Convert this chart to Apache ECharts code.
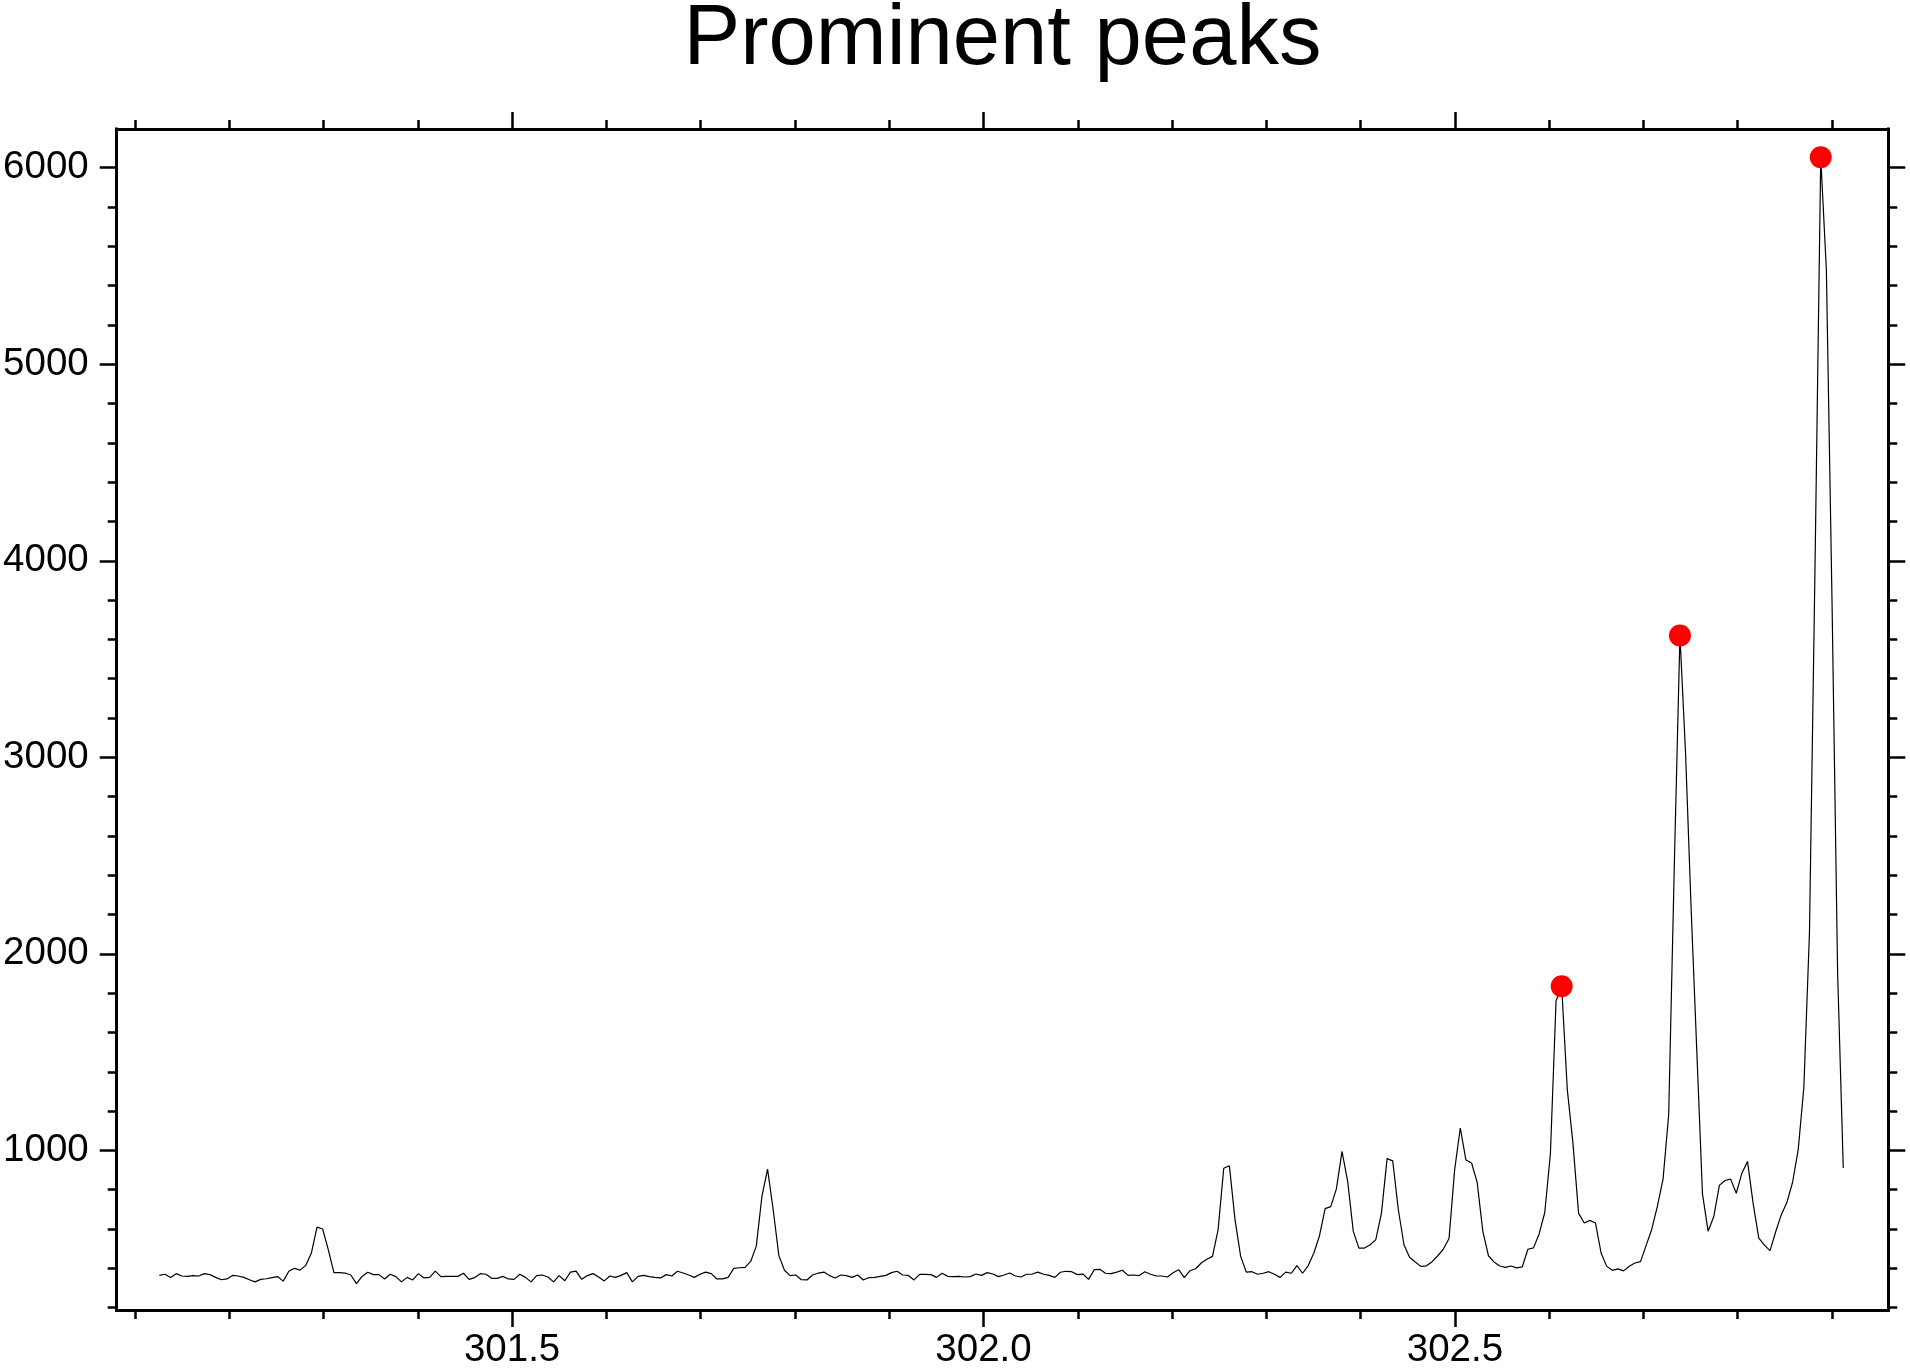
<!DOCTYPE html>
<html>
<head>
<meta charset="utf-8">
<script src="https://cdn.jsdelivr.net/npm/echarts@6/dist/echarts.min.js"></script>
<style>
html,body{margin:0;padding:0;background:#fff;}
#chart{width:1910px;height:1370px;}
</style>
</head>
<body>
<div id="chart"></div>
<script>
// ---- data ----
const chartTitle = 'Prominent peaks';
const mzStart = 301.1258;   // m/z of first sample
const mzStep = 0.0059737;   // sampling step of the spectrum
const intensity = [
 364,370,353,373,361,359,363,361,373,368,
 354,342,346,364,361,354,342,331,344,347,
 353,358,335,385,400,391,415,478,610,600,
 495,378,378,376,366,322,359,380,368,368,
 346,370,358,331,354,341,373,351,354,386,
 358,359,359,359,375,344,353,373,370,349,
 349,359,346,344,370,354,331,363,366,356,
 331,363,337,381,386,344,363,373,356,336,
 361,354,364,378,331,359,364,358,354,351,
 368,361,385,376,366,354,370,381,373,346,
 346,354,400,403,405,435,513,766,905,698,
 466,390,363,366,342,341,366,376,381,363,
 351,366,363,354,366,341,353,354,359,364,
 378,385,366,364,341,369,369,368,354,375,
 359,358,359,356,358,371,364,378,371,358,
 366,376,361,356,370,371,381,370,364,354,
 380,385,383,368,371,344,393,395,375,373,
 381,390,364,366,363,383,370,361,361,356,
 378,393,353,388,398,427,446,461,597,909,
 922,648,461,381,383,370,375,383,370,354,
 381,375,414,375,414,478,566,704,714,804,
 995,843,588,503,503,520,546,681,958,947,
 698,520,456,432,410,413,434,464,498,552,
 902,1114,951,936,837,588,464,432,412,405,
 412,402,407,497,504,575,684,983,1760,1835,
 1309,1037,681,631,644,631,478,410,390,397,
 387,411,427,434,517,599,717,854,1180,2450,
 3620,3020,2220,1500,779,589,662,822,847,854,
 782,884,944,729,554,518,490,586,673,736,
 838,1004,1320,2110,4000,6053,5480,3800,1900,910
];
const peakIndex = [249, 270, 295];

const xMin = 301.0806, xMax = 302.9597;
const yMin = 188, yMax = 6197;
const xMajorTicks = [301.5, 302.0, 302.5];
const xMinorTicks = [301.1,301.2,301.3,301.4,301.5,301.6,301.7,301.8,301.9,302.0,302.1,302.2,302.3,302.4,302.5,302.6,302.7,302.8,302.9];
const yMajorTicks = [1000, 2000, 3000, 4000, 5000, 6000];
const yMinorTicks = [200,400,600,800,1000,1200,1400,1600,1800,2000,2200,2400,2600,2800,3000,3200,3400,3600,3800,4000,4200,4400,4600,4800,5000,5200,5400,5600,5800,6000];

// ---- build ----
const lineData = intensity.map((v, i) => [mzStart + i * mzStep, v]);
const peakData = peakIndex.map(i => lineData[i]);

const FONT = '"Liberation Sans", Arial, Helvetica, sans-serif';
const black = '#000';
const labelSize = 38.5;

function xAx(pos, ticks, len, labels, showLine) {
  return {
    type: 'value', position: pos, min: xMin, max: xMax,
    axisLine: { show: showLine, onZero: false, lineStyle: { color: black, width: 3, cap: 'square' } },
    axisTick: { show: true, inside: false, length: len, customValues: ticks, lineStyle: { color: black, width: 2.5 } },
    axisLabel: labels ? { show: true, customValues: xMajorTicks, formatter: v => v.toFixed(1), color: black, fontSize: labelSize, fontFamily: FONT, margin: 21 } : { show: false },
    splitLine: { show: false }
  };
}
function yAx(pos, ticks, len, labels, showLine) {
  return {
    type: 'value', position: pos, min: yMin, max: yMax,
    axisLine: { show: showLine, onZero: false, lineStyle: { color: black, width: 3, cap: 'square' } },
    axisTick: { show: true, inside: false, length: len, customValues: ticks, lineStyle: { color: black, width: 2.5 } },
    axisLabel: labels ? { show: true, customValues: yMajorTicks, formatter: v => String(v), color: black, fontSize: labelSize, fontFamily: FONT, margin: 28 } : { show: false },
    splitLine: { show: false }
  };
}

const chart = echarts.init(document.getElementById('chart'), null, { renderer: 'canvas' });
chart.setOption({
  backgroundColor: '#fff',
  animation: false,
  grid: { left: 116.7, right: 21.7, top: 129, bottom: 59.7, containLabel: false },
  graphic: [{
    type: 'text', x: 1002.5, y: -2,
    style: { text: chartTitle, font: '85px ' + FONT, fill: black, textAlign: 'center', textVerticalAlign: 'top' }
  }],
  xAxis: [
    xAx('bottom', xMajorTicks, 17, true, true),
    xAx('bottom', xMinorTicks, 9, false, false),
    xAx('top', xMajorTicks, 17, false, true),
    xAx('top', xMinorTicks, 9, false, false)
  ],
  yAxis: [
    yAx('left', yMajorTicks, 17, true, true),
    yAx('left', yMinorTicks, 9, false, false),
    yAx('right', yMajorTicks, 17, false, true),
    yAx('right', yMinorTicks, 9, false, false)
  ],
  series: [
    {
      type: 'line', xAxisIndex: 0, yAxisIndex: 0, data: lineData,
      showSymbol: false, symbol: 'none', smooth: false,
      lineStyle: { color: black, width: 1.2 }, z: 2
    },
    {
      type: 'scatter', xAxisIndex: 0, yAxisIndex: 0, data: peakData,
      symbol: 'circle', symbolSize: 22, itemStyle: { color: '#ff0000', opacity: 1 }, z: 3
    }
  ]
});
</script>
</body>
</html>
